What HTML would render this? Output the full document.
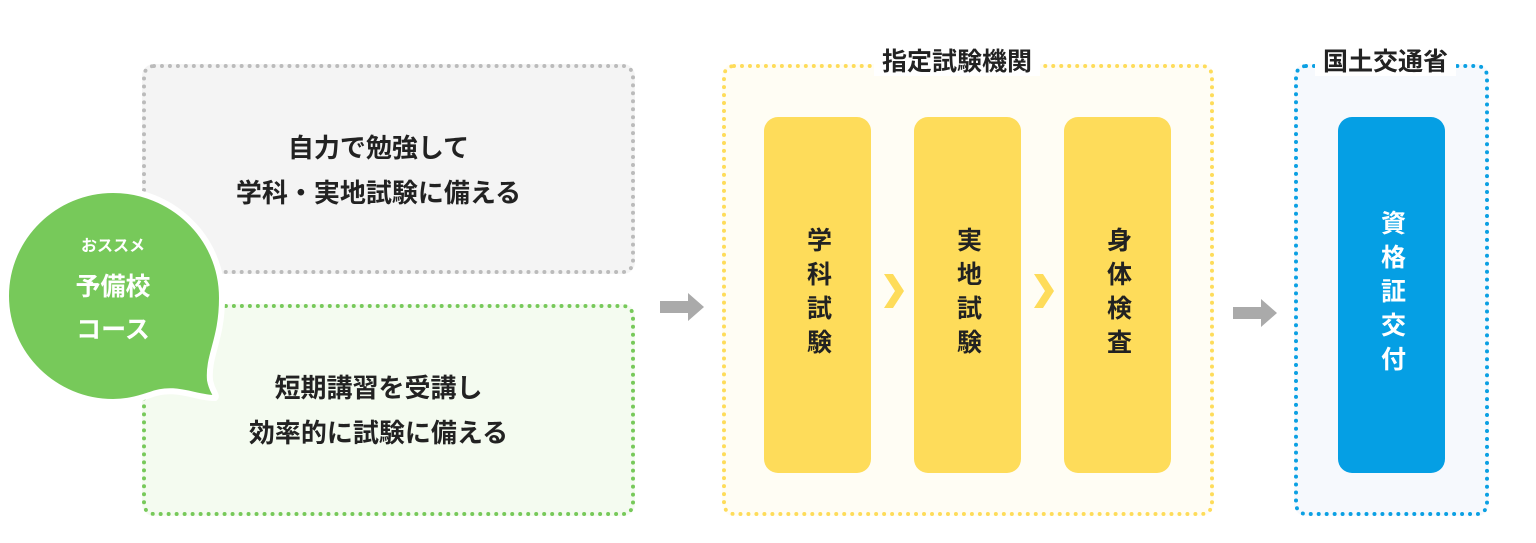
<!DOCTYPE html>
<html><head><meta charset="utf-8"><style>
body{margin:0;width:1536px;height:543px;background:#fff;position:relative;overflow:hidden;font-family:"Liberation Sans","Noto Sans CJK JP",sans-serif;font-weight:bold;color:#222}
.a{position:absolute;box-sizing:border-box}
.box{border-radius:12px;border-width:4px;border-style:dotted}
.t{text-align:center;font-size:26px;line-height:45px}
.col{border-radius:14px;background:#fedc5a;writing-mode:vertical-rl;display:flex;align-items:center;justify-content:center;font-size:25px;letter-spacing:9px}
.ttl{background:#fff;font-size:25px;padding:0 8px;line-height:28px}
</style></head><body>
<div class="a box" style="left:142px;top:64px;width:493px;height:210px;border-color:#bbb;background:#f4f4f4"></div>
<div class="a t" style="left:132px;top:126px;width:493px">自力で勉強して<br>学科・実地試験に備える</div>
<div class="a box" style="left:142px;top:304px;width:493px;height:212px;border-color:#77c95a;background:#f4fbf0"></div>
<div class="a t" style="left:132px;top:366px;width:493px">短期講習を受講し<br>効率的に試験に備える</div>
<svg class="a" style="left:0;top:180px" width="240" height="230">
<path d="M113,10 C170,10 222,55 222,118 C222,160 208,175 210,200 C212,212 218,215 215,218 C195,218 175,205 150,215 C135,220 125,222 113,222 C55,222 6,175 6,116 C6,57 55,10 113,10Z" fill="#77c95a" stroke="#fff" stroke-width="6"/>
</svg>
<div class="a" style="left:20px;top:232px;width:186px;text-align:center;color:#fff;font-size:16px">おススメ</div>
<div class="a" style="left:20px;top:266px;width:186px;text-align:center;color:#fff;font-size:25px;line-height:43px">予備校<br>コース</div>
<svg class="a" style="left:658px;top:292px" width="50" height="30"><path d="M2,9h28v-8l16,14l-16,14v-8h-28z" fill="#aaa"/></svg>
<svg class="a" style="left:1231px;top:298px" width="50" height="30"><path d="M2,9h28v-8l16,14l-16,14v-8h-28z" fill="#aaa"/></svg>
<div class="a box" style="left:722px;top:64px;width:492px;height:452px;border-color:#fedc5a;background:#fffdf4"></div>
<div class="a ttl" style="left:874px;top:48px">指定試験機関</div>
<div class="a col" style="left:764px;top:117px;width:107px;height:356px">学科試験</div>
<div class="a col" style="left:914px;top:117px;width:107px;height:356px">実地試験</div>
<div class="a col" style="left:1064px;top:117px;width:107px;height:356px">身体検査</div>
<svg class="a" style="left:882px;top:272px" width="24" height="38"><path d="M2,2h9l11,17l-11,17h-9l11,-17z" fill="#fedc5a"/></svg>
<svg class="a" style="left:1032px;top:272px" width="24" height="38"><path d="M2,2h9l11,17l-11,17h-9l11,-17z" fill="#fedc5a"/></svg>
<div class="a box" style="left:1294px;top:64px;width:195px;height:452px;border-color:#0ba0e3;background:#f6f9fd"></div>
<div class="a ttl" style="left:1315px;top:48px">国土交通省</div>
<div class="a col" style="left:1338px;top:117px;width:107px;height:356px;background:#059fe4;color:#fff">資格証交付</div>
</body></html>
